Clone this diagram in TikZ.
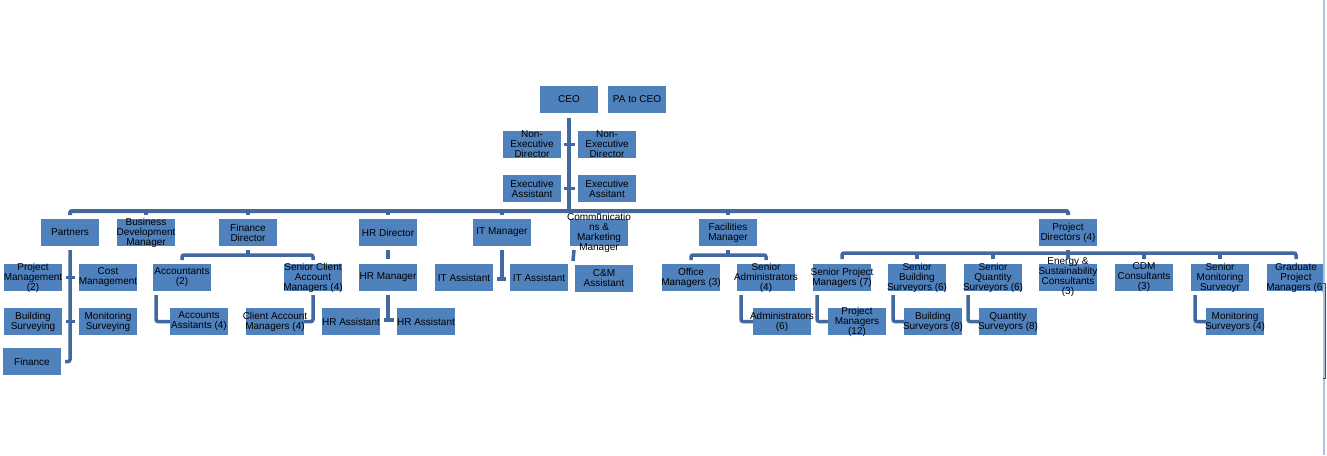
\documentclass[tikz,border=0pt]{standalone}
\usepackage{fontspec}
\setmainfont{Liberation Sans}
\usetikzlibrary{calc}
\definecolor{boxblue}{HTML}{4F81BD}
\definecolor{linkblue}{HTML}{41699F}
\definecolor{edgeblue}{HTML}{A9C3E8}
\newcommand\orgbox[4]{\node[box] (#1) at (#2,#3) {};\node[lbl] (#1-t) at (#1.center) {#4};}
\begin{document}
\begin{tikzpicture}[x=1pt,y=-1pt,
 box/.style={fill=boxblue, inner sep=0pt, outer sep=0pt, minimum width=58pt, minimum height=27pt, anchor=north west},
 lbl/.style={font=\fontsize{10}{10}\selectfont, align=center, inner sep=0pt, text=black},
 link/.style={draw=linkblue, line width=3.5pt},
 elbow/.style={draw=linkblue, line width=3.5pt, rounded corners=2pt},
 bar/.style={draw=linkblue, line width=4pt, rounded corners=2pt},
]
\useasboundingbox (0,0) rectangle (1327,455);
% boxes
\orgbox{ceo}{540}{86}{CEO}
\orgbox{pa}{608}{86}{PA to CEO}
\orgbox{ned1}{503}{131}{Non-\\Executive\\Director}
\orgbox{ned2}{578}{131}{Non-\\Executive\\Director}
\orgbox{ea1}{503}{175}{Executive\\Assistant}
\orgbox{ea2}{578}{175}{Executive\\Assitant}
\orgbox{partners}{41}{219}{Partners}
\orgbox{bdm}{117}{219}{Business\\Development\\Manager}
\orgbox{fd}{219}{219}{Finance\\Director}
\orgbox{hrd}{359}{219}{HR Director}
\orgbox{itm}{473}{219}{IT Manager}
\orgbox{cmm}{570}{219}{Communicatio\\ns \&\\Marketing\\Manager}
\orgbox{fm}{699}{219}{Facilities\\Manager}
\orgbox{pd}{1039}{219}{Project\\Directors (4)}
\orgbox{pm2}{4}{264}{Project\\Management\\(2)}
\orgbox{costm}{79}{264}{Cost\\Management}
\orgbox{bs}{4}{308}{Building\\Surveying}
\orgbox{ms}{79}{308}{Monitoring\\Surveying}
\orgbox{fin}{3}{348}{Finance}
\orgbox{acc}{153}{264}{Accountants\\(2)}
\orgbox{scam}{284}{264}{Senior Client\\Account\\Managers (4)}
\orgbox{aa}{170}{308}{Accounts\\Assitants (4)}
\orgbox{cam}{246}{308}{Client Account\\Managers (4)}
\orgbox{hrm}{359}{264}{HR Manager}
\orgbox{hra1}{322}{308}{HR Assistant}
\orgbox{hra2}{397}{308}{HR Assistant}
\orgbox{ita1}{435}{264}{IT Assistant}
\orgbox{ita2}{510}{264}{IT Assistant}
\orgbox{cma}{575}{265}{C\&M\\Assistant}
\orgbox{om}{662}{264}{Office\\Managers (3)}
\orgbox{sa}{737}{264}{Senior\\Administrators\\(4)}
\orgbox{adm}{753}{308}{Administrators\\(6)}
\orgbox{spm}{813}{264}{Senior Project\\Managers (7)}
\orgbox{pm12}{828}{308}{Project\\Managers\\(12)}
\orgbox{sbs}{888}{264}{Senior\\Building\\Surveyors (6)}
\orgbox{bs8}{904}{308}{Building\\Surveyors (8)}
\orgbox{sqs}{964}{264}{Senior\\Quantity\\Surveyors (6)}
\orgbox{qs8}{979}{308}{Quantity\\Surveyors (8)}
\orgbox{esc}{1039}{264}{Energy \&\\Sustainability\\Consultants\\(3)}
\orgbox{cdm}{1115}{264}{CDM\\Consultants\\(3)}
\orgbox{sms}{1191}{264}{Senior\\Monitoring\\Surveoyr}
\orgbox{gpm}{1267}{264}{Graduate\\Project\\Managers (6)}
\orgbox{mos}{1206}{308}{Monitoring\\Surveyors (4)}
% CEO trunk
\draw[link, line width=4.5pt] ($(ceo.south)+(0,5)$) -- ($(ceo.south)+(0,98)$);
\draw[link] ($(ned1.east)+(3,0)$) -- ($(ned2.west)+(-3,0)$);
\draw[link] ($(ea1.east)+(3,0)$) -- ($(ea2.west)+(-3,0)$);
% top bar
\draw[bar] ($(partners.north)+(0,-4)$) |- ($(pd.north)+(0,-8)$) -- ($(pd.north)+(0,-4)$);
\foreach \n in {bdm,fd,hrd,itm,cmm,fm}
  \draw[link] ($(\n.north)+(0,-4)$) -- ($(\n.north)+(0,-9)$);
% partners
\draw[elbow] ($(partners.south)+(0,4)$) |- ($(fin.east)+(4,0)$);
\draw[link] ($(pm2.east)+(4,0)$) -- ($(costm.west)+(-4,0)$);
\draw[link] ($(bs.east)+(4,0)$) -- ($(ms.west)+(-4,0)$);
% finance
\draw[link] ($(fd.south)+(0,4)$) -- ($(fd.south)+(0,9)$);
\draw[elbow] ($(acc.north)+(0,-4)$) |- ($(scam.north)+(0,-9)$) -- ($(scam.north)+(0,-4)$);
\draw[elbow] ($(acc.south west)+(3,4)$) |- (aa.west);
\draw[elbow] ($(scam.south)+(0,4)$) |- (cam.east);
% HR
\draw[link] ($(hrd.south)+(0,4)$) -- ($(hrm.north)+(0,-5)$);
\draw[link] ($(hrm.south)+(0,4)$) -- ($(hrm.south |- hra1.east)+(0,0)$);
\draw[link] ($(hra1.east)+(4,-1.5)$) -- ($(hra2.west)+(-3,-1.5)$);
% IT
\draw[link] ($(itm.south)+(0,4)$) -- ($(itm.south |- ita1.east)+(0,3)$);
\draw[link] ($(ita1.east)+(4,1.5)$) -- ($(ita2.west)+(-4,1.5)$);
% C&M
\draw[link] ($(cmm.south west)+(4,4)$) -- ($(cma.north west)+(-2,-4)$);
% facilities
\draw[link] ($(fm.south)+(0,4)$) -- ($(fm.south)+(0,9)$);
\draw[elbow] ($(om.north)+(0,-4)$) |- ($(sa.north)+(0,-9)$) -- ($(sa.north)+(0,-4)$);
\draw[elbow] ($(sa.south west)+(4,4)$) |- (adm.west);
% project directors
\draw[link] ($(pd.south)+(0,4)$) -- ($(pd.south)+(0,8)$);
\draw[elbow] ($(spm.north)+(0,-5)$) |- ($(gpm.north)+(0,-11)$) -- ($(gpm.north)+(0,-5)$);
\foreach \n in {sbs,sqs,esc,cdm,sms}
  \draw[link] ($(\n.north)+(0,-11)$) -- ($(\n.north)+(0,-5)$);
\draw[elbow] ($(spm.south west)+(4,4)$) |- (pm12.west);
\draw[elbow] ($(sbs.south west)+(5,4)$) |- (bs8.west);
\draw[elbow] ($(sqs.south west)+(4,4)$) |- (qs8.west);
\draw[elbow] ($(sms.south west)+(4,4)$) |- (mos.west);
% right edge
\draw[edgeblue, line width=2pt] (1323.5,0) -- (1323.5,455);
\draw[gray!60!black, line width=0.6pt] (1323,283) -- (1325.5,283) -- (1325.5,378) -- (1323,378);
\end{tikzpicture}
\end{document}
